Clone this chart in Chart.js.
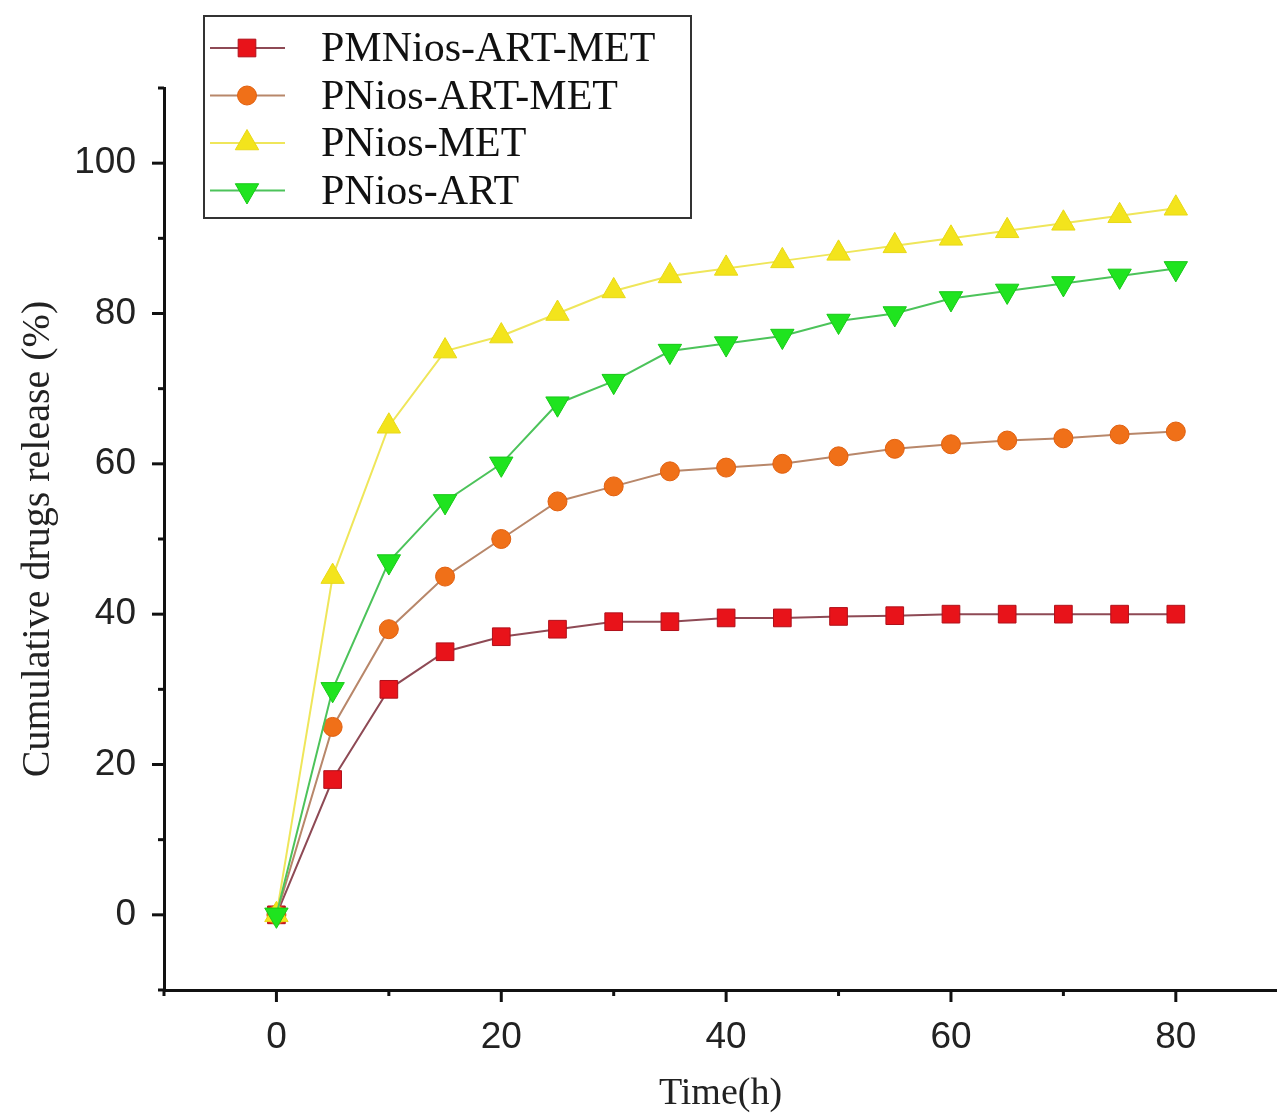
<!DOCTYPE html>
<html>
<head>
<meta charset="utf-8">
<title>Cumulative drugs release</title>
<script src="https://cdn.jsdelivr.net/npm/chart.js@4.4.1/dist/chart.umd.min.js"></script>
<style>
  html, body { margin: 0; padding: 0; background: #fff; }
  #wrap { width: 1277px; height: 1117px; position: relative; }
</style>
</head>
<body>
<div id="wrap"><canvas id="releaseCanvas"></canvas></div>
<script>
// Data
const timeH = [0, 5, 10, 15, 20, 25, 30, 35, 40, 45, 50, 55, 60, 65, 70, 75, 80];
const pmniosArtMet = [0, 18, 30, 35, 37, 38, 39, 39, 39.5, 39.5, 39.7, 39.8, 40, 40, 40, 40, 40];
const pniosArtMet = [0, 25, 38, 45, 50, 55, 57, 59, 59.5, 60, 61, 62, 62.6, 63.1, 63.4, 63.9, 64.3];
const pniosMet = [0, 45, 65, 75, 77, 80, 83, 85, 86, 87, 88, 89, 90, 91, 92, 93, 94];
const pniosArt = [0, 30, 47, 55, 60, 68, 71, 75, 76, 77, 79, 80, 82, 83, 84, 85, 86];

const seriesNames = ['PMNios-ART-MET', 'PNios-ART-MET', 'PNios-MET', 'PNios-ART'];
const seriesValues = [pmniosArtMet, pniosArtMet, pniosMet, pniosArt];

// look of each series
const styles = [
  {line: '#8e4a55', fill: '#e8131a', edge: '#b0101a', shape: 'rect', r: 12.5, rot: 0},
  {line: '#b8876a', fill: '#f07018', edge: '#e06010', shape: 'circle', r: 9.5, rot: 0},
  {line: '#efe65a', fill: '#f3e41c', edge: '#e8d818', shape: 'triangle', r: 13.5, rot: 0},
  {line: '#4cc35a', fill: '#1fe41f', edge: '#18c818', shape: 'triangle', r: 13.5, rot: 180}
];

function toPoints(vals) {
  return timeH.map((t, i) => ({x: t, y: vals[i]}));
}

const datasets = seriesValues.map((vals, i) => ({
  label: seriesNames[i],
  data: toPoints(vals),
  borderColor: styles[i].line,
  borderWidth: 2,
  pointStyle: styles[i].shape,
  pointRotation: styles[i].rot,
  pointRadius: styles[i].r,
  pointBackgroundColor: styles[i].fill,
  pointBorderColor: styles[i].edge,
  pointBorderWidth: 1,
  tension: 0,
  order: seriesValues.length - 1 - i
}));

// tick marks outside the axes, long ones at labelled values
const tickMarks = {
  id: 'tickMarks',
  afterDraw(chart) {
    const ctx = chart.ctx;
    const xs = chart.scales.x, ys = chart.scales.y;
    ctx.save();
    ctx.strokeStyle = '#111';
    ctx.lineWidth = 3;
    xs.ticks.forEach(t => {
      const px = xs.getPixelForValue(t.value);
      const len = t.value % 20 === 0 ? 12 : 6;
      ctx.beginPath();
      ctx.moveTo(px, xs.top);
      ctx.lineTo(px, xs.top + len);
      ctx.stroke();
    });
    ys.ticks.forEach(t => {
      const py = ys.getPixelForValue(t.value);
      const len = t.value % 20 === 0 ? 12 : 6;
      ctx.beginPath();
      ctx.moveTo(ys.right, py);
      ctx.lineTo(ys.right - len, py);
      ctx.stroke();
    });
    ctx.restore();
  }
};

// boxed legend inside the plot, upper left
const boxLegend = {
  id: 'boxLegend',
  afterDraw(chart) {
    const ctx = chart.ctx;
    const bx = 204, by = 16, bw = 487, bh = 202;
    ctx.save();
    ctx.fillStyle = '#fff';
    ctx.fillRect(bx, by, bw, bh);
    ctx.strokeStyle = '#333';
    ctx.lineWidth = 2;
    ctx.strokeRect(bx, by, bw, bh);
    ctx.font = '42px "Liberation Serif", "Times New Roman", serif';
    ctx.textBaseline = 'middle';
    seriesNames.forEach((name, i) => {
      const y = 48 + i * 47.5;
      const s = styles[i];
      ctx.strokeStyle = s.line;
      ctx.lineWidth = 2;
      ctx.beginPath();
      ctx.moveTo(210, y);
      ctx.lineTo(285, y);
      ctx.stroke();
      ctx.fillStyle = s.fill;
      ctx.strokeStyle = s.edge;
      ctx.lineWidth = 1;
      if (Chart.helpers && Chart.helpers.drawPoint) {
        Chart.helpers.drawPoint(ctx, {pointStyle: s.shape, radius: s.r, rotation: s.rot, borderWidth: 1}, 247, y);
      }
      ctx.fillStyle = '#111';
      ctx.fillText(name, 321, y + 2);
    });
    ctx.restore();
  }
};

const keepTens = scale => {
  scale.ticks = scale.ticks.filter(t => t.value % 10 === 0);
};

new Chart(document.getElementById('releaseCanvas').getContext('2d'), {
  type: 'line',
  data: {datasets: datasets},
  options: {
    responsive: true,
    maintainAspectRatio: false,
    animation: false,
    layout: {autoPadding: false, padding: {top: 88, right: 0, left: 0, bottom: 0}},
    plugins: {legend: {display: false}, tooltip: {enabled: false}},
    scales: {
      x: {
        type: 'linear',
        min: -10,
        max: 89,
        grid: {display: false},
        border: {color: '#111', width: 3},
        afterBuildTicks: keepTens,
        afterFit: s => { s.height = 127; },
        ticks: {
          stepSize: 10,
          autoSkip: false,
          maxRotation: 0,
          padding: 18,
          color: '#222',
          font: {family: '"Liberation Sans", Arial, sans-serif', size: 37},
          callback: v => (v % 20 === 0 ? v : '')
        },
        title: {
          display: true,
          text: 'Time(h)',
          color: '#222',
          padding: {top: 0, bottom: 0},
          font: {family: '"Liberation Serif", "Times New Roman", serif', size: 38}
        }
      },
      y: {
        type: 'linear',
        min: -10,
        max: 110,
        grid: {display: false},
        border: {color: '#111', width: 3},
        afterBuildTicks: keepTens,
        afterFit: s => { s.width = 164; },
        ticks: {
          stepSize: 10,
          autoSkip: false,
          padding: 20,
          color: '#222',
          font: {family: '"Liberation Sans", Arial, sans-serif', size: 37},
          callback: v => (v % 20 === 0 ? v : '')
        },
        title: {
          display: true,
          text: 'Cumulative drugs release (%)',
          color: '#222',
          padding: {top: 14, bottom: 0},
          font: {family: '"Liberation Serif", "Times New Roman", serif', size: 40}
        }
      }
    }
  },
  plugins: [tickMarks, boxLegend]
});
</script>
</body>
</html>
